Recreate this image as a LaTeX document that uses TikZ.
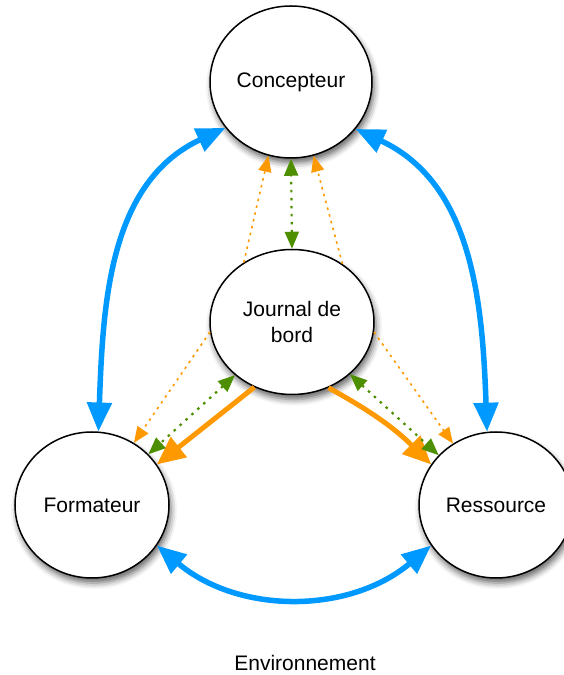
\documentclass[tikz,border=0pt]{standalone}
\usepackage{fontspec}
\setmainfont{Liberation Sans}
\usetikzlibrary{shapes.geometric,arrows.meta,shadows.blur}
\definecolor{bleu}{RGB}{0,153,255}
\definecolor{orangef}{RGB}{255,153,0}
\definecolor{vert}{RGB}{78,143,0}

\begin{document}
\begin{tikzpicture}[x=1pt,y=1pt,
        acteur/.style={ellipse,draw,line width=1.5pt,fill=white,inner sep=0pt,align=center,
            font=\fontsize{21}{26}\selectfont,
            blur shadow={shadow xshift=2pt,shadow yshift=-5pt,shadow blur radius=6pt,shadow opacity=60}},
        echange/.style={line width=5.5pt,draw=bleu,
            {Triangle[length=29pt,width=24pt]}-{Triangle[length=29pt,width=24pt]}},
        trace/.style={line width=5pt,draw=orangef,-{Triangle[length=28pt,width=25pt]}},
        consult/.style={line width=2.2pt,draw=vert,dash pattern=on 2.5pt off 5.5pt,
            {Triangle[length=17pt,width=14pt]}-{Triangle[length=17pt,width=14pt]}},
        retour/.style={line width=1.6pt,draw=orangef,dash pattern=on 2.5pt off 4.5pt,
            -{Triangle[length=16pt,width=13pt]}}]
        \useasboundingbox (0,0) rectangle (563,675);
        % les acteurs
        \node[acteur,minimum width=162pt,minimum height=152pt] (conc) at (291,593) {Concepteur};
        \node[acteur,minimum width=164pt,minimum height=145pt] (journ) at (292,353) {Journal de\\bord};
        \node[acteur,minimum width=154pt,minimum height=146pt] (form) at (92,170) {Formateur};
        \node[acteur,minimum width=154pt,minimum height=146pt] (res) at (496,170) {Ressource};
        \node[font=\fontsize{21}{26}\selectfont] (env) at (305,12) {Environnement};
        % echanges directs
        \draw[echange] (form.85) to[out=88,in=205] (conc.215);
        \draw[echange] (res.97) to[out=92,in=-25] (conc.-36);
        \draw[echange] (form.-32) to[out=-40,in=220] (res.212);
        % journal de bord
        \draw[trace] (journ.240) -- (form.32);
        \draw[trace] (journ.-61) to[bend left=8] (res.148);
        \draw[consult] (journ.90) -- (conc.270);
        \draw[consult] (journ.223) -- (form.42);
        \draw[consult] (journ.-42) -- (res.139);
        \draw[retour] (journ.129) -- (conc.253);
        \draw[retour] (journ.49) -- (conc.287);
        \draw[retour] (journ.187) -- (form.56);
        \draw[retour] (journ.-7) -- (res.125);
    \end{tikzpicture}
\end{document}
